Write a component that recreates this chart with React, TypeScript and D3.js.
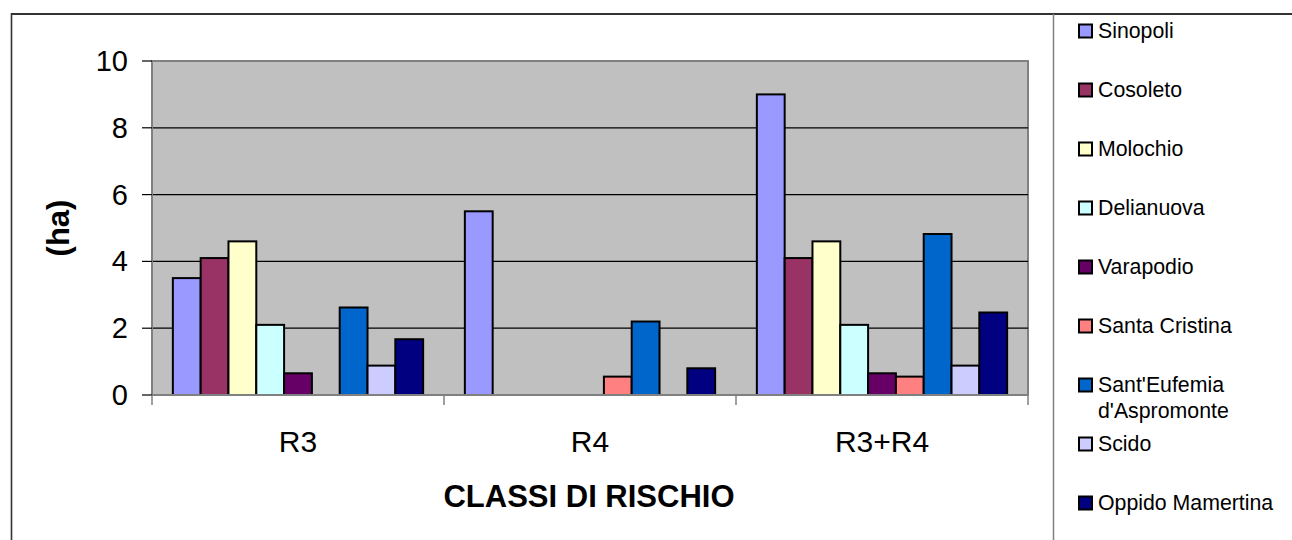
import * as d3 from "d3";

// ---------------------------------------------------------------------------
// Data
// ---------------------------------------------------------------------------

const CATEGORIES = ["R3", "R4", "R3+R4"];

const SERIES = [
  "Sinopoli",
  "Cosoleto",
  "Molochio",
  "Delianuova",
  "Varapodio",
  "Santa Cristina",
  "Sant'Eufemia d'Aspromonte",
  "Scido",
  "Oppido Mamertina",
];

// values per category, in SERIES order
const VALUES_R3 = [3.5, 4.1, 4.6, 2.1, 0.65, 0, 2.62, 0.88, 1.67];
const VALUES_R4 = [5.5, 0, 0, 0, 0, 0.55, 2.2, 0, 0.8];
const VALUES_R3R4 = [9.0, 4.1, 4.6, 2.1, 0.65, 0.55, 4.82, 0.88, 2.47];

const Y_TICKS = [0, 2, 4, 6, 8, 10];

const COLORS = [
  "#9999ff",
  "#993366",
  "#ffffcc",
  "#ccffff",
  "#660066",
  "#ff8080",
  "#0066cc",
  "#ccccff",
  "#000080",
];

const FONT = "'Liberation Sans', Arial, sans-serif";

// ---------------------------------------------------------------------------
// Component
// ---------------------------------------------------------------------------

export default function App() {
  const width = 1292;
  const height = 540;
  const plot = { left: 152, right: 1028, top: 61, bottom: 395 };

  const rows = [VALUES_R3, VALUES_R4, VALUES_R3R4];

  const x = d3
    .scaleBand<string>()
    .domain(CATEGORIES)
    .range([plot.left, plot.right])
    .padding(0);

  // Excel-style gap width 150%
  const bw = x.bandwidth();
  const barW = bw / (SERIES.length + 1.5);
  const xs = d3
    .scaleBand<string>()
    .domain(SERIES)
    .range([barW * 0.75, bw - barW * 0.75])
    .padding(0);

  const y = d3.scaleLinear().domain([0, 10]).range([plot.bottom, plot.top]);

  const legendX = 1079;
  const legendY0 = 31;
  const legendStep = 59;

  return (
    <svg
      width={width}
      height={height}
      style={{ position: "absolute", left: 0, top: 0, background: "#fff" }}
      fontFamily={FONT}
    >
      {/* outer frame */}
      <line x1={11.5} x2={11.5} y1={13} y2={height} stroke="#333" strokeWidth={1.6} />
      <line x1={11} x2={width} y1={14} y2={14} stroke="#333" strokeWidth={2} />
      <line x1={1053.5} x2={1053.5} y1={14} y2={height} stroke="#808080" strokeWidth={1.5} />

      {/* plot area */}
      <rect
        x={plot.left}
        y={plot.top}
        width={plot.right - plot.left}
        height={plot.bottom - plot.top}
        fill="#c0c0c0"
        stroke="#808080"
        strokeWidth={2}
      />

      {/* gridlines */}
      {Y_TICKS.filter((t) => t > 0 && t < 10).map((t) => (
        <line
          key={"g" + t}
          x1={plot.left}
          x2={plot.right}
          y1={y(t)}
          y2={y(t)}
          stroke="#000"
          strokeWidth={1.2}
        />
      ))}

      {/* bars */}
      {rows.map((vals, ci) =>
        vals.map((v, si) =>
          v > 0 ? (
            <rect
              key={`b${ci}-${si}`}
              x={x(CATEGORIES[ci])! + xs(SERIES[si])!}
              y={y(v)}
              width={xs.bandwidth()}
              height={y(0) - y(v)}
              fill={COLORS[si]}
              stroke="#000"
              strokeWidth={2}
            />
          ) : null
        )
      )}

      {/* y axis */}
      <line x1={plot.left} x2={plot.left} y1={plot.top} y2={plot.bottom} stroke="#808080" strokeWidth={2} />
      {Y_TICKS.map((t) => (
        <g key={"y" + t}>
          <line x1={142} x2={plot.left} y1={y(t)} y2={y(t)} stroke="#000" strokeWidth={1.2} />
          <text
            x={128}
            y={y(t)}
            textAnchor="end"
            dominantBaseline="central"
            fontSize={29}
            fill="#000"
          >
            {t}
          </text>
        </g>
      ))}

      {/* x axis */}
      <line x1={plot.left} x2={plot.right} y1={plot.bottom} y2={plot.bottom} stroke="#808080" strokeWidth={2} />
      {[...CATEGORIES.map((c) => x(c)!), plot.right].map((px, i) => (
        <line key={"xt" + i} x1={px} x2={px} y1={plot.bottom} y2={405} stroke="#808080" strokeWidth={1.5} />
      ))}
      {CATEGORIES.map((c) => (
        <text
          key={"xl" + c}
          x={x(c)! + bw / 2}
          y={452}
          textAnchor="middle"
          fontSize={30}
          fill="#000"
        >
          {c}
        </text>
      ))}

      {/* axis titles */}
      <text
        x={589}
        y={507}
        textAnchor="middle"
        fontSize={31}
        fontWeight="bold"
        fill="#000"
      >
        CLASSI DI RISCHIO
      </text>
      <text
        transform="translate(69,228) rotate(-90)"
        textAnchor="middle"
        fontSize={31}
        fontWeight="bold"
        fill="#000"
      >
        (ha)
      </text>

      {/* legend */}
      {SERIES.map((s, i) => {
        const cy = legendY0 + i * legendStep;
        const lines =
          s === "Sant'Eufemia d'Aspromonte" ? ["Sant'Eufemia", "d'Aspromonte"] : [s];
        return (
          <g key={"l" + s}>
            <rect
              x={legendX}
              y={cy - 6.5}
              width={13}
              height={13}
              fill={COLORS[i]}
              stroke="#000"
              strokeWidth={2}
            />
            {lines.map((ln, k) => (
              <text key={k} x={1098} y={cy + 7 + k * 26} fontSize={21.3} fill="#000">
                {ln}
              </text>
            ))}
          </g>
        );
      })}
    </svg>
  );
}
